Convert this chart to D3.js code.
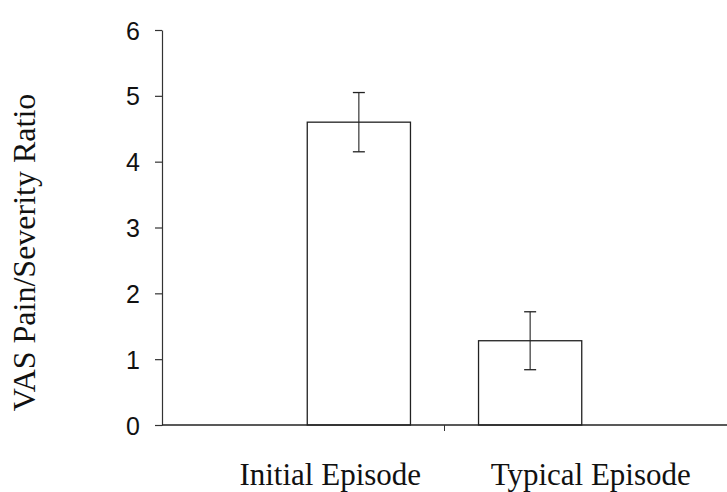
<!DOCTYPE html>
<html>
<head>
<meta charset="utf-8">
<script src="https://cdn.jsdelivr.net/npm/d3@7"></script>
<style>
  body { margin: 0; background: #fff; }
  .tick text { font-family: "Liberation Sans", Arial, sans-serif; }
  .serif { font-family: "Liberation Serif", "Times New Roman", serif; }
</style>
</head>
<body>
<div id="chart"></div>
<script>
var width = 727;
var height = 492;

var margin = {left: 162, right: 0, top: 30, bottom: 67};

// two episode groups, each drawn as two series slots (one of them empty)
var categories = ["Initial Episode", "Typical Episode"];
var series = ["Series 1", "Series 2"];
var values = {
  "Series 1": [0, 1.28],
  "Series 2": [4.6, 0]
};
var errors = {
  "Series 1": [0, 0.44],
  "Series 2": [0.45, 0]
};
var yTicks = [0, 1, 2, 3, 4, 5, 6];

var innerW = width - margin.left - margin.right;
var innerH = height - margin.top - margin.bottom;

var x = d3.scaleBand()
          .domain(categories)
          .range([0, innerW]);

var xs = d3.scaleBand()
           .domain(series)
           .range([0, x.bandwidth()])
           .paddingInner(0.072)
           .paddingOuter(0.306);

var y = d3.scaleLinear()
          .domain([0, 6])
          .range([innerH, 0]);

var svg = d3.select("#chart")
            .append("svg")
            .attr("width", width)
            .attr("height", height);

var chartGroup = svg.append("g")
            .attr("transform", "translate(" + margin.left + "," + margin.top + ")");

var yAxis = d3.axisLeft(y)
              .tickValues(yTicks)
              .tickFormat(d3.format("d"))
              .tickSize(7)
              .tickSizeOuter(0)
              .tickPadding(15);

var gy = chartGroup.append("g")
          .attr("class", "axis y")
          .call(yAxis);
gy.selectAll("text").attr("font-size", 25).attr("fill", "#111").attr("dy", "0.36em");
gy.selectAll("line, path").attr("stroke", "#333").attr("stroke-width", 1.2);

// bars
var bars = [];
categories.forEach(function(c, i) {
  series.forEach(function(s) {
    if (values[s][i] > 0) bars.push({cat: c, ser: s, v: values[s][i], e: errors[s][i]});
  });
});

chartGroup.selectAll("rect.bar")
  .data(bars)
  .enter().append("rect")
  .attr("class", "bar")
  .attr("x", function(d) { return x(d.cat) + xs(d.ser); })
  .attr("width", xs.bandwidth())
  .attr("y", function(d) { return y(d.v); })
  .attr("height", function(d) { return y(0) - y(d.v); })
  .attr("fill", "#fff")
  .attr("stroke", "#222")
  .attr("stroke-width", 1.3);

// error bars
var err = chartGroup.selectAll("g.err")
  .data(bars)
  .enter().append("g")
  .attr("class", "err")
  .attr("transform", function(d) { return "translate(" + (x(d.cat) + xs(d.ser) + xs.bandwidth() / 2) + ",0)"; });

err.append("line")
  .attr("y1", function(d) { return y(d.v + d.e); })
  .attr("y2", function(d) { return y(d.v - d.e); })
  .attr("stroke", "#222").attr("stroke-width", 1.1);

err.selectAll("line.cap")
  .data(function(d) { return [d.v + d.e, d.v - d.e]; })
  .enter().append("line")
  .attr("class", "cap")
  .attr("x1", -6).attr("x2", 6)
  .attr("y1", function(v) { return y(v); })
  .attr("y2", function(v) { return y(v); })
  .attr("stroke", "#222").attr("stroke-width", 1.3);

// x axis line with the group boundary tick
chartGroup.append("line")
  .attr("x1", 0).attr("x2", innerW)
  .attr("y1", y(0)).attr("y2", y(0))
  .attr("stroke", "#222").attr("stroke-width", 1.3);

chartGroup.append("line")
  .attr("x1", x(categories[1])).attr("x2", x(categories[1]))
  .attr("y1", y(0)).attr("y2", y(0) + 6)
  .attr("stroke", "#333").attr("stroke-width", 1);

// category labels
chartGroup.selectAll("text.cat")
  .data(categories)
  .enter().append("text")
  .attr("class", "cat serif")
  .attr("x", function(d, i) { return x(d) + x.bandwidth() / 2 + (i === 0 ? 27 : 5); })
  .attr("y", y(0) + 60)
  .attr("text-anchor", "middle")
  .attr("font-size", 31)
  .attr("fill", "#111")
  .text(function(d) { return d; });

// y label
svg.append("text")
  .attr("class", "serif")
  .attr("transform", "translate(35," + (margin.top + innerH / 2 + 25) + ") rotate(-90)")
  .attr("text-anchor", "middle")
  .attr("font-size", 32)
  .attr("fill", "#111")
  .text("VAS Pain/Severity Ratio");
</script>
</body>
</html>
